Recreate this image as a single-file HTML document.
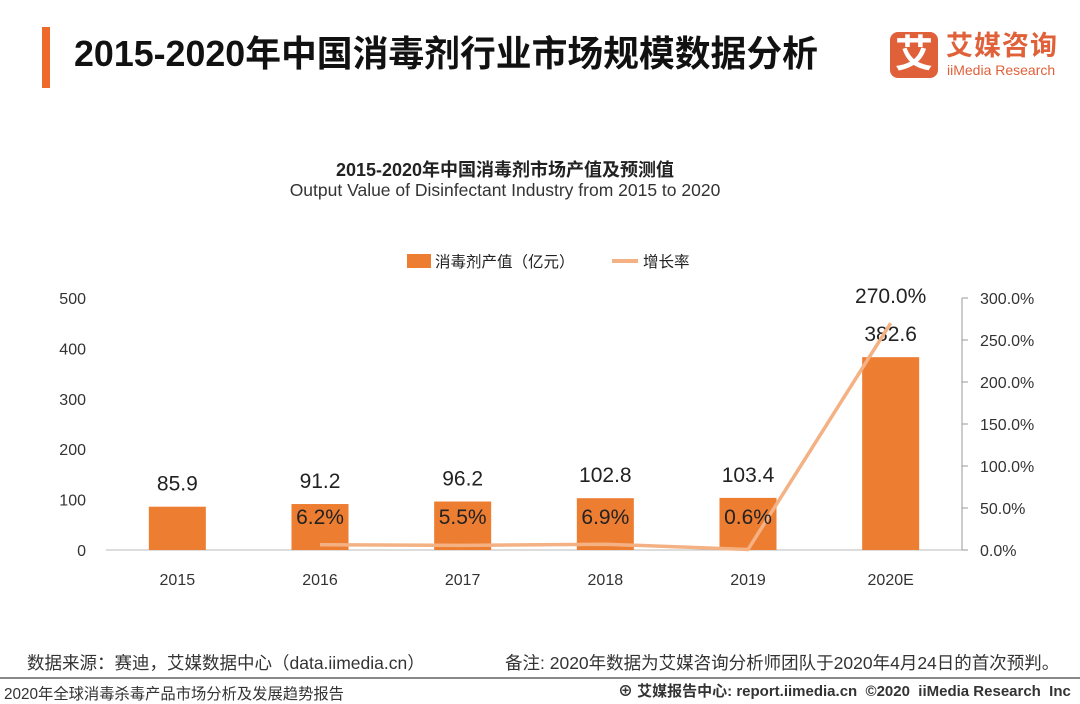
<!DOCTYPE html>
<html><head><meta charset="utf-8">
<style>
body{margin:0;width:1080px;height:702px;background:#fff;overflow:hidden;font-family:"Liberation Sans","Noto Sans CJK SC",sans-serif;position:relative}
.abs{position:absolute;white-space:nowrap}
</style></head><body>
<div class="abs" style="left:42px;top:27px;width:8px;height:61px;background:#ee6a2c"></div>
<div class="abs" style="left:74px;top:30px;font-size:35.8px;font-weight:bold;color:#111;line-height:48px">2015-2020年中国消毒剂行业市场规模数据分析</div>
<div class="abs" style="left:890px;top:32px;width:48px;height:46px;background:#e0603a;border-radius:8px;color:#fff;font-size:38px;font-weight:bold;text-align:center;line-height:46px">艾</div>
<div class="abs" style="left:946px;top:30px;color:#e0603a;font-size:27px;font-weight:bold;line-height:32px;letter-spacing:1px">艾媒咨询</div>
<div class="abs" style="left:947px;top:62px;color:#e0603a;font-size:14px;line-height:16px">iiMedia Research</div>
<div class="abs" style="left:0;width:1010px;top:156px;text-align:center;font-size:18px;font-weight:bold;color:#222">2015-2020年中国消毒剂市场产值及预测值</div>
<div class="abs" style="left:0;width:1010px;top:180px;text-align:center;font-size:17.5px;color:#333">Output Value of Disinfectant Industry from 2015 to 2020</div>
<svg class="abs" style="left:0;top:0" width="1080" height="702" id="chart">
<g>
<rect x="407" y="254" width="24" height="14" fill="#ed7d31"/>
<text x="435" y="267" font-size="15.5" fill="#222">消毒剂产值（亿元）</text>
<line x1="612" y1="261" x2="638" y2="261" stroke="#f4b183" stroke-width="4"/>
<text x="643" y="267" font-size="15.5" fill="#222">增长率</text>
</g>
</svg>
<div class="abs" style="left:27px;top:650px;font-size:17.5px;color:#333">数据来源：赛迪，艾媒数据中心（data.iimedia.cn）</div>
<div class="abs" style="left:505px;top:650px;font-size:17.5px;color:#333">备注: 2020年数据为艾媒咨询分析师团队于2020年4月24日的首次预判。</div>
<div class="abs" style="left:0;top:677px;width:1080px;height:2px;background:#888"></div>
<div class="abs" style="left:4px;top:682px;font-size:15.3px;color:#333">2020年全球消毒杀毒产品市场分析及发展趋势报告</div>
<div class="abs" style="left:618px;top:680px;font-size:15px;color:#333;font-weight:bold">⊕ 艾媒报告中心: report.iimedia.cn &nbsp;©2020 &nbsp;iiMedia Research &nbsp;Inc</div>
<script>
const categories=["2015","2016","2017","2018","2019","2020E"];
const outputValues=[85.9,91.2,96.2,102.8,103.4,382.6];
const growthRates=[null,6.2,5.5,6.9,0.6,270.0];
const leftTicks=[0,100,200,300,400,500];
const rightTicks=[0,50,100,150,200,250,300];
const svg=document.getElementById('chart');
const NS='http://www.w3.org/2000/svg';
const x0=106,x1=962,yB=550,yT=298;
const band=(x1-x0)/categories.length;
const xc=i=>x0+band*(i+0.5);
const yL=v=>yB-(v/500)*(yB-yT);
const yR=v=>yB-(v/300)*(yB-yT);
function mk(t,a,txt){const e=document.createElementNS(NS,t);for(const k in a)e.setAttribute(k,a[k]);if(txt!=null)e.textContent=txt;svg.appendChild(e);return e;}
leftTicks.forEach(v=>{const e=mk('text',{x:86,y:yL(v)+6,'font-size':16,fill:'#333','text-anchor':'end'},v);

});
rightTicks.forEach(v=>{const y=yR(v);const l=mk('line',{x1:962,x2:968,y1:y,y2:y,stroke:'#999'});


const e=mk('text',{x:980,y:y+6,'font-size':16,fill:'#333'},v.toFixed(1)+'%');

});
const ra=mk('line',{x1:962,x2:962,y1:yT,y2:yB,stroke:'#999'});


const xa=mk('line',{x1:x0,x2:x1,y1:yB,y2:yB,stroke:'#bbb'});


categories.forEach((c,i)=>{
const e=mk('text',{x:xc(i),y:585,'font-size':16,fill:'#333','text-anchor':'middle'},c);


const v=outputValues[i];const b=mk('rect',{x:xc(i)-28.5,y:yL(v),width:57,height:yB-yL(v),fill:'#ed7d31'});


const vl=mk('text',{x:xc(i),y:yL(v)-16,'font-size':21,fill:'#222','text-anchor':'middle'},v.toFixed(1));

});
let d='';growthRates.forEach((g,i)=>{if(g==null)return;d+=(d?'L':'M')+xc(i)+','+yR(g);});
const p=mk('path',{d:d,fill:'none',stroke:'#f4b183','stroke-width':3.5});


growthRates.forEach((g,i)=>{if(g==null)return;const last=i===growthRates.length-1;
const e=mk('text',{x:xc(i),y:last?yR(g)-20:524,'font-size':21,fill:'#222','text-anchor':'middle'},g.toFixed(1)+'%');

});
</script>
</body></html>
